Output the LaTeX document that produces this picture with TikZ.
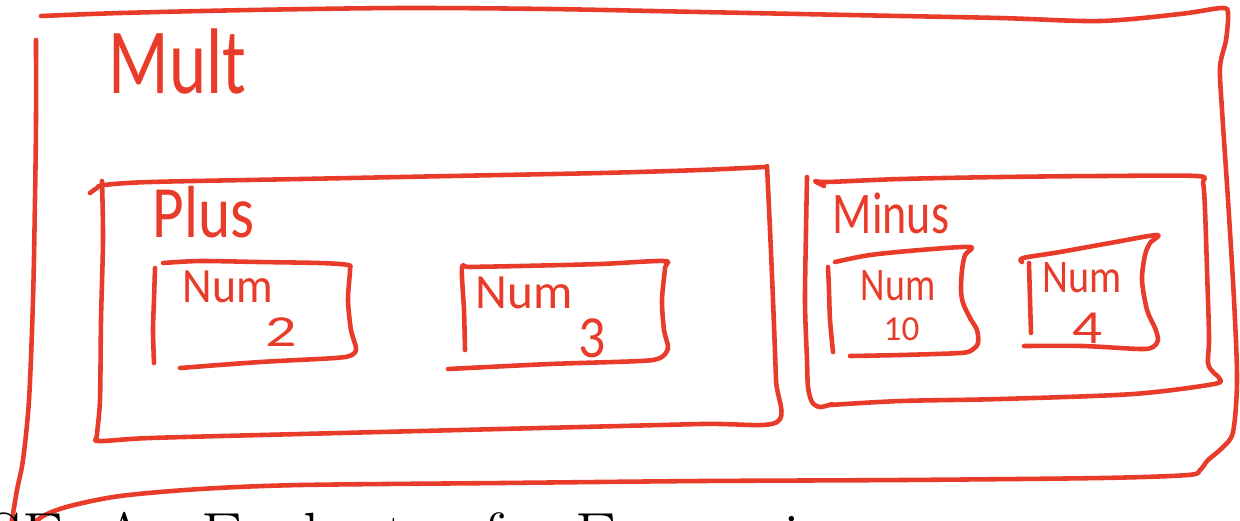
\documentclass[tikz,border=0pt]{standalone}
\usepackage{fontspec}
\usepackage{graphicx}
\newfontfamily\handfont{Carlito}
\definecolor{ink}{RGB}{233,59,42}
\newcommand\hand[3]{{\handfont\fontsize{#1}{#1}\selectfont\scalebox{#2}[1]{#3}}}
\begin{document}
\begin{tikzpicture}[x=0.01cm,y=-0.01cm,
    pen/.style={draw=ink,line width=1.3pt,line cap=round,line join=round},
    hw/.style={text=ink,inner sep=0pt,anchor=base west}]
    \useasboundingbox (0,0) rectangle (1240,520);
    \draw[pen] plot[smooth,tension=.5] coordinates {(41,16) (120,13) (250,10) (400,8) (550,9) (700,12) (850,15) (1000,18) (1100,21) (1180,14) (1222,8) (1228,14) (1226,40) (1220,67) (1222,110) (1228,200) (1234,300) (1237,380) (1233,432) (1222,448) (1208,460) (1200,470) (1188,475) (1100,478) (900,480) (700,481) (500,483) (300,485) (200,489) (120,496) (70,506) (45,515) (30,526)};
    \draw[pen] plot[smooth,tension=.5] coordinates {(36,40) (36,120) (35,200) (33,300) (29,400) (23,460) (17,490) (11,526)};
    \node[hw] (mult) at (108,93) {\hand{26.5}{.76}{Mult}};
    \draw[pen] plot[smooth,tension=.5] coordinates {(90,193) (97,188) (104,185) (150,182) (300,179) (450,176) (600,173) (700,170) (765,167)};
    \draw[pen] plot[smooth,tension=.5] coordinates {(102,181) (103,240) (101,320) (100,400) (97,435) (99,441) (150,438) (300,434) (500,429) (700,424) (777,422) (776,380) (773,300) (770,230) (767,166)};
    \node[hw] (plus) at (152,237) {\hand{21}{.83}{Plus}};
    \draw[pen] plot[smooth,tension=.5] coordinates {(155,268) (154,300) (153,330) (154,363)};
    \draw[pen] plot[smooth,tension=.5] coordinates {(163,263) (200,261) (260,262) (320,263) (348,265) (350,270) (348,300) (351,330) (356,348) (352,355) (335,358) (260,362) (180,368)};
    \node[hw] (numtwo) at (182,302) {\hand{14}{.93}{Num}};
    \node[hw] (two) at (265,346) {\hand{12.6}{1.4}{2}};
    \draw[pen] plot[smooth,tension=.5] coordinates {(465,350) (464,310) (462,268) (470,267) (520,266) (600,264) (664,261) (665,268) (662,300) (664,330) (668,348) (660,358) (640,361) (550,364) (448,369)};
    \node[hw] (numthree) at (475,308) {\hand{14}{1}{Num}};
    \node[hw] (three) at (578,357) {\hand{17}{.9}{3}};
    \draw[pen] plot[smooth,tension=.5] coordinates {(824,186) (815,181) (827,182) (900,179) (1000,177) (1100,176) (1197,176) (1203,183) (1205,210) (1207,270) (1209,337) (1208,363) (1213,372) (1219,378) (1214,384) (1133,394) (1000,399) (900,401) (830,405)};
    \draw[pen] plot[smooth,tension=.5] coordinates {(807,177) (806,230) (805,303) (807,360) (808,387) (812,402) (820,407) (832,404)};
    \node[hw] (minus) at (832,233) {\hand{16.8}{.78}{Minus}};
    \draw[pen] plot[smooth,tension=.5] coordinates {(828,267) (829,290) (830,320) (833,352)};
    \draw[pen] plot[smooth,tension=.5] coordinates {(835,262) (870,255) (920,250) (970,247) (965,255) (962,270) (961,290) (963,303) (970,318) (977,330) (978,343) (972,350) (960,353) (900,355) (850,356)};
    \node[hw] (numten) at (860,300) {\hand{13.3}{.81}{Num}};
    \node[hw] (ten) at (883,340) {\hand{10}{1}{10}};
    \draw[pen] plot[smooth,tension=.5] coordinates {(1029,263) (1030,300) (1031,333)};
    \draw[pen] plot[smooth,tension=.5] coordinates {(1022,262) (1023,258) (1060,252) (1110,243) (1157,235) (1150,243) (1145,255) (1142,280) (1147,310) (1155,328) (1158,340) (1153,347) (1140,349) (1083,346) (1024,346)};
    \node[hw] (numfour) at (1042,292) {\hand{13.3}{.86}{Num}};
    \node[hw] (four) at (1072,343) {\hand{13.5}{1.25}{4}};
    \node[anchor=base west,inner sep=0pt,font=\fontsize{19}{19}\selectfont] (title) at (-253,559) {EXERCISE: An Evaluator for Expressions};
\end{tikzpicture}
\end{document}
